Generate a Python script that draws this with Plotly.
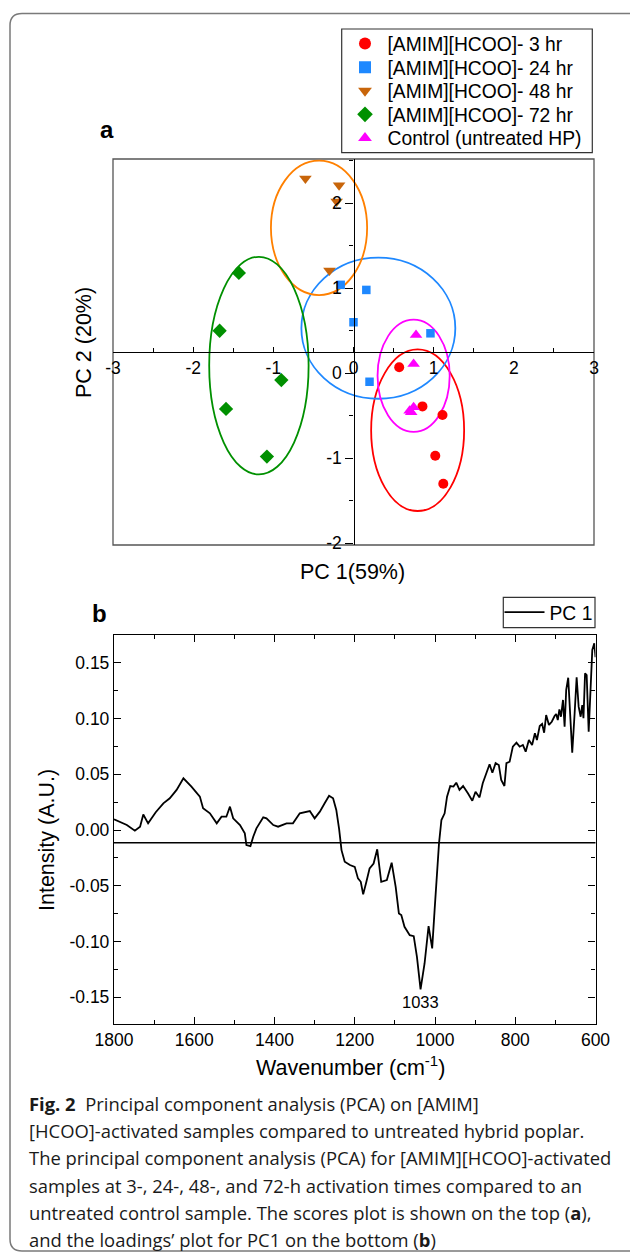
import plotly.graph_objects as go

# ---------------- data: panel a (PCA scores) ----------------
pc1_3h = [0.57, 0.86, 1.11, 1.02, 1.12]
pc2_3h = [0.07, -0.39, -0.49, -0.97, -1.30]
pc1_24h = [-0.16, 0.16, 0.00, 0.96, 0.20]
pc2_24h = [1.04, 0.98, 0.60, 0.47, -0.10]
pc1_48h = [-0.60, -0.18, -0.21, -0.30]
pc2_48h = [2.29, 2.21, 2.02, 1.21]
pc1_72h = [-1.43, -1.67, -0.90, -1.59, -1.08]
pc2_72h = [1.18, 0.50, -0.08, -0.42, -0.98]
pc1_ctrl = [0.78, 0.75, 0.70, 0.75, 0.72]
pc2_ctrl = [0.45, 0.11, -0.44, -0.40, -0.46]

series_names = ["[AMIM][HCOO]- 3 hr", "[AMIM][HCOO]- 24 hr", "[AMIM][HCOO]- 48 hr",
                "[AMIM][HCOO]- 72 hr", "Control (untreated HP)"]

# confidence ellipses (3 hr, 24 hr, 48 hr, 72 hr, control)
ell_cx = [0.80, 0.31, -0.43, -1.18, 0.75]
ell_cy = [-0.67, 0.53, 1.71, 0.09, -0.03]
ell_rx = [0.58, 0.96, 0.60, 0.62, 0.45]
ell_ry = [0.95, 0.83, 0.79, 1.28, 0.66]

a_xticks = [-3, -2, -1, 0, 1, 2, 3]
a_xticktext = ["-3", "-2", "-1", "0", "1", "2", "3"]
a_xminor = [-2.5, -1.5, -0.5, 0.5, 1.5, 2.5]
a_yticks = [-2, -1, 0, 1, 2]
a_yticktext = ["-2", "-1", "0", "1", "2"]
a_yminor = [-1.5, -0.5, 0.5, 1.5, 2.5]

# ---------------- data: panel b (PC1 loadings) ----------------
wavenumber = [1800, 1785, 1768, 1748, 1735, 1727, 1715, 1696, 1677, 1661, 1644, 1627, 1620, 1607,
              1586, 1578, 1561, 1544, 1532, 1520, 1511, 1503, 1486, 1474, 1470, 1460, 1453, 1445,
              1428, 1420, 1403, 1391, 1370, 1354, 1337, 1312, 1300, 1287, 1275, 1264, 1254, 1246,
              1239, 1233, 1225, 1212, 1200, 1192, 1185, 1179, 1171, 1163, 1153, 1144, 1134, 1120,
              1108, 1098, 1090, 1084, 1076, 1063, 1053, 1045, 1036, 1026, 1016, 1007, 1001, 995,
              990, 984, 976, 970, 962, 954, 947, 939, 930, 918, 907, 899, 889, 881, 872, 864, 857,
              849, 841, 835, 827, 822, 814, 806, 797, 789, 781, 774, 766, 758, 751, 746, 739, 733,
              728, 723, 716, 709, 702, 698, 694, 690, 686, 681, 677, 673, 668, 663, 658, 652, 647,
              642, 637, 633, 630, 626, 622, 617, 613, 608, 603, 600]
pc1_loading = [0.0096, 0.0075, 0.0045, -0.0006, 0.003, 0.0140, 0.006, 0.016, 0.024, 0.0285,
               0.036, 0.0464, 0.044, 0.039, 0.030, 0.0195, 0.015, 0.006, 0.012, 0.012, 0.021,
               0.0105, 0.0045, -0.003, -0.0135, -0.0144, -0.006, 0.0015, 0.0114, 0.0105, 0.0045,
               0.003, 0.006, 0.006, 0.015, 0.0170, 0.0105, 0.0165, 0.024, 0.0308, 0.0285, 0.018,
               0.001, -0.018, -0.0284, -0.0314, -0.033, -0.0434, -0.0464, -0.0577, -0.0464,
               -0.0344, -0.030, -0.0173, -0.0464, -0.0449, -0.0293, -0.0509, -0.0748, -0.0763,
               -0.0868, -0.0943, -0.0952, -0.1137, -0.143, -0.1197, -0.0862, -0.1062, -0.0718,
               -0.0389, -0.0119, 0.009, 0.015, 0.030, 0.0395, 0.039, 0.0425, 0.036, 0.0395, 0.033,
               0.0263, 0.0344, 0.0293, 0.042, 0.051, 0.059, 0.0514, 0.060, 0.0584, 0.045, 0.0395,
               0.060, 0.0613, 0.0748, 0.0784, 0.0748, 0.0763, 0.0703, 0.0808, 0.0763, 0.0868,
               0.0808, 0.0934, 0.0952, 0.0873, 0.1032, 0.0943, 0.0972, 0.1023, 0.1041, 0.0987,
               0.1083, 0.1017, 0.1167, 0.0927, 0.1257, 0.1367, 0.0958, 0.0694, 0.1048, 0.1371,
               0.1107, 0.1017, 0.1122, 0.1003, 0.1407, 0.1391, 0.0882, 0.1257, 0.1616, 0.1676, 0.155]
baseline_y = -0.0114
peak_label = "1033"
peak_wavenumber = 1036
peak_value = -0.143

b_xticks = [1800, 1600, 1400, 1200, 1000, 800, 600]
b_xminor = [1700, 1500, 1300, 1100, 900, 700]
b_yticks = [-0.15, -0.10, -0.05, 0.00, 0.05, 0.10, 0.15]
b_yticktext = ["-0.15", "-0.10", "-0.05", "0.00", "0.05", "0.10", "0.15"]
b_yminor = [-0.125, -0.075, -0.025, 0.025, 0.075, 0.125]

caption_lines = [
    "<b>Fig. 2</b>  Principal component analysis (PCA) on [AMIM]",
    "[HCOO]-activated samples compared to untreated hybrid poplar.",
    "The principal component analysis (PCA) for [AMIM][HCOO]-activated",
    "samples at 3-, 24-, 48-, and 72-h activation times compared to an",
    "untreated control sample. The scores plot is shown on the top (<b>a</b>),",
    "and the loadings\u2019 plot for PC1 on the bottom (<b>b</b>)",
]

# ---------------- styling ----------------
W, H = 630, 1255
FONT = "Liberation Sans, Arial, sans-serif"
marker_colors = ["#FF0000", "#1E88FF", "#C8650A", "#009000", "#FF00FF"]
ellipse_colors = ["#FF0000", "#1E88FF", "#FF8000", "#009000", "#FF00FF"]
marker_symbols = ["circle", "square", "triangle-down", "diamond", "triangle-up"]
marker_sizes = [10, 8.5, 11, 11, 11]
legend_ids = ["legend", "legend3", "legend4", "legend5", "legend6"]
legend_centers_px = [44, 67.6, 91.2, 114.8, 138.4]
legend_font = dict(size=19.3, family=FONT, color="black")


def px_x(p):
    return p / W


def px_y(p):
    return 1 - p / H


fig = go.Figure()

xs = [pc1_3h, pc1_24h, pc1_48h, pc1_72h, pc1_ctrl]
ys = [pc2_3h, pc2_24h, pc2_48h, pc2_72h, pc2_ctrl]
for i in range(5):
    fig.add_trace(go.Scatter(
        x=xs[i], y=ys[i], mode="markers", name=series_names[i],
        marker=dict(symbol=marker_symbols[i], color=marker_colors[i], size=marker_sizes[i],
                    line=dict(width=0)),
        xaxis="x", yaxis="y", legend=legend_ids[i],
    ))

for i in range(5):
    fig.add_shape(type="circle", xref="x", yref="y",
                  x0=ell_cx[i] - ell_rx[i], x1=ell_cx[i] + ell_rx[i],
                  y0=ell_cy[i] - ell_ry[i], y1=ell_cy[i] + ell_ry[i],
                  line=dict(color=ellipse_colors[i], width=1.8), layer="below")

# panel a frame
fig.add_shape(type="rect", xref="x domain", yref="y domain", x0=0, x1=1, y0=0, y1=1,
              line=dict(color="#555555", width=1.3), layer="below")

# legend boxes
fig.add_shape(type="rect", xref="paper", yref="paper",
              x0=px_x(341.7), x1=px_x(592.3), y0=px_y(152.7), y1=px_y(29),
              line=dict(color="#333333", width=1.2), fillcolor="white", layer="below")
fig.add_shape(type="rect", xref="paper", yref="paper",
              x0=px_x(503.3), x1=px_x(595), y0=px_y(627.7), y1=px_y(597.3),
              line=dict(color="#333333", width=1.2), fillcolor="white", layer="below")

fig.add_trace(go.Scatter(
    x=wavenumber, y=pc1_loading, mode="lines", name="PC 1",
    line=dict(color="black", width=1.8), xaxis="x2", yaxis="y2", legend="legend2",
))

fig.add_shape(type="line", xref="x2 domain", yref="y2", x0=0, x1=1, y0=baseline_y, y1=baseline_y,
              line=dict(color="black", width=1.3))

fig.add_annotation(x=peak_wavenumber, y=peak_value, xref="x2", yref="y2", text=peak_label,
                   showarrow=False, yanchor="top", yshift=-2, font=dict(size=16.5, family=FONT, color="black"))

tickfont = dict(size=17.5, family=FONT, color="black")

legends = {}
for lid, cy in zip(legend_ids, legend_centers_px):
    legends[lid] = dict(x=px_x(342.5), y=px_y(cy), xanchor="left", yanchor="middle",
                        bgcolor="rgba(0,0,0,0)", borderwidth=0, font=legend_font,
                        itemsizing="constant", itemwidth=35)

fig.update_layout(
    width=W, height=H, autosize=False,
    margin=dict(l=0, r=0, t=0, b=0, pad=0, autoexpand=False),
    paper_bgcolor="white", plot_bgcolor="rgba(0,0,0,0)",
    font=dict(family=FONT, color="black"),
    xaxis=dict(domain=[px_x(113), px_x(594)], range=[-3, 3], anchor="free",
               position=px_y(351.75), showgrid=False, zeroline=False, automargin=False,
               showline=True, linecolor="black", linewidth=1.3,
               tickmode="array", tickvals=a_xticks, ticktext=a_xticktext,
               ticks="inside", ticklen=5, tickcolor="black", tickwidth=1.2, tickfont=tickfont,
               minor=dict(tickmode="array", tickvals=a_xminor, ticks="inside", ticklen=4,
                          tickcolor="black", tickwidth=1.2)),
    yaxis=dict(domain=[px_y(545), px_y(159)], range=[-2.02, 2.52], anchor="free",
               position=px_x(353.5), showgrid=False, zeroline=False, automargin=False,
               showline=True, linecolor="black", linewidth=1.3,
               tickmode="array", tickvals=a_yticks, ticktext=a_yticktext,
               ticks="outside", ticklen=8, tickcolor="black", tickwidth=1.2, tickfont=tickfont,
               minor=dict(tickmode="array", tickvals=a_yminor, ticks="outside", ticklen=4,
                          tickcolor="black", tickwidth=1.2)),
    xaxis2=dict(domain=[px_x(114), px_x(595.5)], range=[1800, 600], anchor="y2",
                showgrid=False, zeroline=False, showline=True, mirror="ticks", automargin=False,
                linecolor="black", linewidth=1.3,
                tickmode="array", tickvals=b_xticks, ticks="inside", ticklen=7,
                tickcolor="black", tickwidth=1.2, tickfont=tickfont,
                minor=dict(tickmode="array", tickvals=b_xminor, ticks="inside", ticklen=4,
                           tickcolor="black", tickwidth=1.2)),
    yaxis2=dict(domain=[px_y(1024), px_y(635)], range=[-0.174, 0.175], anchor="x2",
                showgrid=False, zeroline=False, showline=True, mirror="ticks", automargin=False,
                linecolor="black", linewidth=1.3,
                tickmode="array", tickvals=b_yticks, ticktext=b_yticktext, ticks="inside",
                ticklen=7, tickcolor="black", tickwidth=1.2, tickfont=tickfont,
                minor=dict(tickmode="array", tickvals=b_yminor, ticks="inside", ticklen=4,
                           tickcolor="black", tickwidth=1.2)),
    legend2=dict(x=px_x(499.5), y=px_y(612.5), xanchor="left", yanchor="middle",
                 bgcolor="rgba(0,0,0,0)", borderwidth=0,
                 font=legend_font, itemwidth=40),
    showlegend=True,
    **legends,
)

# outer rounded frame (left side rounded, right edge cropped)
r = 12
x0, y0, x1, y1 = 10, 13.5, 640, 1251
path = (f"M {px_x(x1)},{px_y(y0)} L {px_x(x0 + r)},{px_y(y0)} "
        f"Q {px_x(x0)},{px_y(y0)} {px_x(x0)},{px_y(y0 + r)} "
        f"L {px_x(x0)},{px_y(y1 - r)} Q {px_x(x0)},{px_y(y1)} {px_x(x0 + r)},{px_y(y1)} "
        f"L {px_x(x1)},{px_y(y1)}")
fig.add_shape(type="path", xref="paper", yref="paper", path=path,
              line=dict(color="#7a7a7a", width=1.5))

titlefont = dict(size=21.5, family=FONT, color="black")
fig.add_annotation(text="PC 1(59%)", x=px_x(352), y=px_y(572), xref="paper", yref="paper",
                   showarrow=False, font=titlefont, xanchor="center", yanchor="middle")
fig.add_annotation(text="PC 2 (20%)", x=px_x(84), y=px_y(343), xref="paper", yref="paper",
                   showarrow=False, font=titlefont, textangle=-90, xanchor="center", yanchor="middle")
fig.add_annotation(text="Wavenumber (cm<sup>-1</sup>)", x=px_x(350), y=px_y(1066), xref="paper",
                   yref="paper", showarrow=False, font=titlefont, xanchor="center", yanchor="middle")
fig.add_annotation(text="Intensity (A.U.)", x=px_x(47), y=px_y(840), xref="paper", yref="paper",
                   showarrow=False, font=titlefont, textangle=-90, xanchor="center", yanchor="middle")

panelfont = dict(size=24, family=FONT, color="black")
fig.add_annotation(text="<b>a</b>", x=px_x(106.5), y=px_y(129), xref="paper", yref="paper",
                   showarrow=False, font=panelfont, xanchor="center", yanchor="middle")
fig.add_annotation(text="<b>b</b>", x=px_x(99.5), y=px_y(613), xref="paper", yref="paper",
                   showarrow=False, font=panelfont, xanchor="center", yanchor="middle")

cap_y = [1103, 1130, 1157, 1185, 1212, 1239]
for line, yy in zip(caption_lines, cap_y):
    fig.add_annotation(text=line, x=px_x(27), y=px_y(yy), xref="paper", yref="paper",
                       showarrow=False, xanchor="left", yanchor="middle", align="left",
                       font=dict(size=18.4, family="Open Sans, sans-serif", color="#1a1a1a"))

fig.write_html("out.html")
